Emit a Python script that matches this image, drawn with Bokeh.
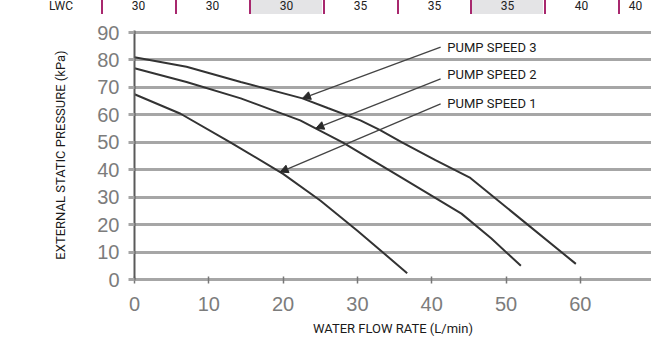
import numpy as np
from bokeh.plotting import figure
from bokeh.models import (Range1d, Arrow, NormalHead, LabelSet, Div,
                          FixedTicker, ColumnDataSource)
from bokeh.layouts import column
from bokeh.embed import file_html
from bokeh.resources import INLINE
from bokeh.core.properties import value

# ---------------- data ----------------
speed1_flow = [0, 6.2, 12.9, 20, 25, 30, 36.7]
speed1_kpa = [67.5, 60.4, 50.0, 38.5, 28.8, 17.8, 2.3]

speed2_flow = [0, 7, 14.3, 22.3, 28, 36, 44, 48, 52]
speed2_kpa = [77.0, 72.0, 66.0, 58.0, 50.0, 37.0, 24.0, 15.0, 5.0]

speed3_flow = [0, 7, 14.3, 22.6, 26, 30.4, 33, 36, 40.5, 45.2, 52, 59.4]
speed3_kpa = [81.0, 77.5, 72.0, 66.0, 62.5, 58.0, 54.5, 50.0, 43.5, 37.0, 22.0, 5.7]

series_names = ["PUMP SPEED 3", "PUMP SPEED 2", "PUMP SPEED 1"]
label_flow = [42.1, 42.1, 42.1]
label_kpa = [84.7, 74.8, 64.3]
arrow_start_flow = [41.2, 41.2, 41.2]
arrow_start_kpa = [84.7, 73.1, 64.0]
arrow_end_flow = [22.6, 24.4, 19.6]

x_ticks = [0, 10, 20, 30, 40, 50, 60, 70]
y_ticks = [0, 10, 20, 30, 40, 50, 60, 70, 80, 90]

header_first = "LWC"
header_values = ["30", "30", "30", "35", "35", "35", "40", "40"]
header_shaded = [False, False, True, False, False, True, False, False]

FONT = "Roboto"

# ---------------- header strip (cropped table row above the chart) ----------------
cell_w = 73.9
first_sep = 101
cells = [f'<div style="position:absolute;left:30px;width:62px;top:0;height:14px;'
         f'text-align:center;">{header_first}</div>']
for i, (v, s) in enumerate(zip(header_values, header_shaded)):
    left = int(round(first_sep + i * cell_w))
    w = int(min(cell_w, 651 - left))
    bg = "#e4e4e6" if s else "transparent"
    cells.append(f'<div style="position:absolute;left:{left}px;width:{w}px;top:0;'
                 f'height:14px;box-sizing:border-box;border-left:2px solid #a8286e;'
                 f'background:{bg};text-align:center;">{v}</div>')
hdr = Div(text=('<div style="position:relative;width:651px;height:14px;overflow:hidden;'
                f'font-family:{FONT};font-size:12px;line-height:13px;color:#222;">'
                + "".join(cells) + '</div>'),
          width=651, height=14, margin=(0, 0, 0, 0))

# ---------------- main chart ----------------
p = figure(width=651, height=324, x_range=Range1d(0, 69.58), y_range=Range1d(0, 90.74),
           output_backend="svg", toolbar_location=None,
           min_border_left=134, min_border_right=0, min_border_top=16,
           min_border_bottom=59, margin=(0, 0, 0, 0))
p.outline_line_color = None
p.background_fill_color = "white"
p.border_fill_color = None

p.xgrid.visible = False
p.ygrid.ticker = FixedTicker(ticks=y_ticks)
p.ygrid.grid_line_color = "#a6a6a6"
p.ygrid.grid_line_width = 3

p.xaxis.ticker = FixedTicker(ticks=x_ticks)
p.yaxis.ticker = FixedTicker(ticks=y_ticks)
for ax in (p.xaxis, p.yaxis):
    ax.minor_tick_line_color = None
    ax.major_label_text_font = "Liberation Sans"
    ax.major_label_text_font_size = "20px"
    ax.major_label_text_color = "#7c7c7c"
    ax.axis_label_text_font = FONT
    ax.axis_label_text_font_size = "13px"
    ax.axis_label_text_font_style = "normal"
    ax.axis_label_text_color = "#1a1a1a"

p.xaxis.axis_label = "WATER FLOW RATE (L/min)"
p.xaxis.axis_line_color = "#a6a6a6"
p.xaxis.axis_line_width = 3
p.xaxis.major_tick_line_color = "#777777"
p.xaxis.major_tick_line_width = 1.5
p.xaxis.major_tick_in = 3
p.xaxis.major_tick_out = 4
p.xaxis.major_label_standoff = 13
p.xaxis.axis_label_standoff = 7

p.yaxis.axis_label = "EXTERNAL STATIC PRESSURE (kPa)"
p.yaxis.axis_line_color = "#5a5a5a"
p.yaxis.axis_line_width = 2
p.yaxis.major_tick_line_color = "#a6a6a6"
p.yaxis.major_tick_line_width = 3
p.yaxis.major_tick_in = 0
p.yaxis.major_tick_out = 6
p.yaxis.major_label_standoff = 9
p.yaxis.axis_label_standoff = 26

curve_color = "#333333"
p.line(speed1_flow, speed1_kpa, line_color=curve_color, line_width=2)
p.line(speed2_flow, speed2_kpa, line_color=curve_color, line_width=2)
p.line(speed3_flow, speed3_kpa, line_color=curve_color, line_width=2)

# arrow tips sit on their curves
curves = [(speed3_flow, speed3_kpa), (speed2_flow, speed2_kpa), (speed1_flow, speed1_kpa)]
arrow_end_kpa = [float(np.interp(xe, cx, cy)) for xe, (cx, cy) in zip(arrow_end_flow, curves)]

arrow_src = ColumnDataSource(dict(x0=arrow_start_flow, y0=arrow_start_kpa,
                                  x1=arrow_end_flow, y1=arrow_end_kpa))
p.add_layout(Arrow(source=arrow_src, x_start="x0", y_start="y0", x_end="x1", y_end="y1",
                   line_color="#444444", line_width=1.3,
                   end=NormalHead(size=8, fill_color="#2a2a2a", line_color="#2a2a2a")))

lab_src = ColumnDataSource(dict(x=label_flow, y=label_kpa, t=series_names))
p.add_layout(LabelSet(source=lab_src, x="x", y="y", text="t", text_font=value(FONT),
                      text_font_size="13px", text_baseline="middle",
                      text_color="#1a1a1a"))

layout = column(hdr, p, spacing=0)
html = file_html(layout, INLINE)
# light grey scan band under the chart, as in the reference page
html = html.replace("<body>",
                    '<body style="background:linear-gradient(#ffffff 0 288px, #efefef 288px)">', 1)
open("out.html", "w").write(html)
